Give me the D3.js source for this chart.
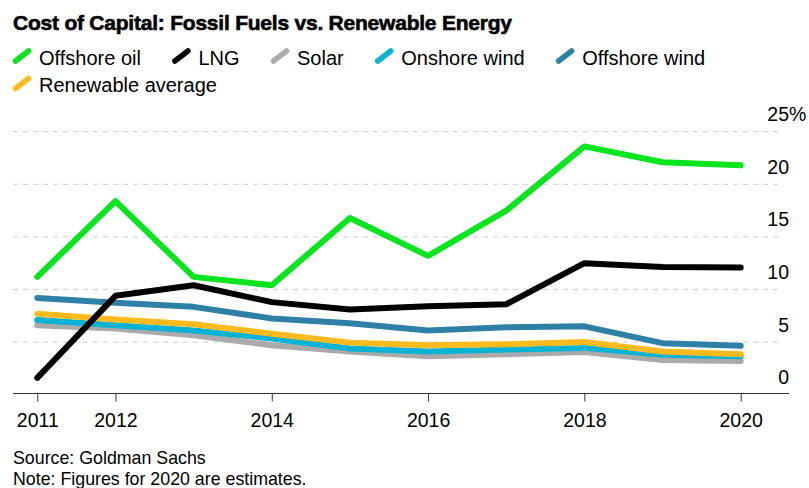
<!DOCTYPE html>
<html>
<head>
<meta charset="utf-8">
<script src="https://cdn.jsdelivr.net/npm/d3@7"></script>
<style>
  body { margin: 0; background: #fff; }
  svg { display: block; font-family: "Liberation Sans", Arial, sans-serif; }
</style>
</head>
<body>
<svg id="chart" width="809" height="488"></svg>
<script>
// données
var years = [2011, 2012, 2013, 2014, 2015, 2016, 2017, 2018, 2019, 2020];
var offshoreOil = [11.2, 18.4, 11.2, 10.4, 16.8, 13.2, 17.5, 23.6, 22.1, 21.8];
var lng = [1.6, 9.4, 10.4, 8.8, 8.1, 8.4, 8.6, 12.5, 12.15, 12.1];
var solar = [6.6, 6.3, 5.65, 4.7, 4.1, 3.65, 3.85, 4.05, 3.3, 3.2];
var onshoreWind = [7.1, 6.6, 6.1, 5.35, 4.4, 4.1, 4.3, 4.45, 3.8, 3.65];
var offshoreWind = [9.2, 8.75, 8.35, 7.25, 6.8, 6.1, 6.4, 6.5, 4.9, 4.65];
var renewableAvg = [7.7, 7.15, 6.7, 5.8, 4.95, 4.7, 4.8, 5.0, 4.1, 3.85];

var seriesNames = ["Offshore oil", "LNG", "Solar", "Onshore wind", "Offshore wind", "Renewable average"];
var xTickValues = [2011, 2012, 2014, 2016, 2018, 2020];
var yTickValues = [0, 5, 10, 15, 20, 25];

var colors = {
    "Offshore oil": "#08e41e",
    "LNG": "#000000",
    "Solar": "#aaaaaa",
    "Onshore wind": "#06b3d5",
    "Offshore wind": "#2f80a6",
    "Renewable average": "#ffbb1e"
};

var values = {
    "Offshore oil": offshoreOil,
    "LNG": lng,
    "Solar": solar,
    "Onshore wind": onshoreWind,
    "Offshore wind": offshoreWind,
    "Renewable average": renewableAvg
};

var svg = d3.select("#chart");

// titre
var title = svg.append("text")
    .attr("x", 13)
    .attr("y", 30)
    .style("font-size", "21px")
    .style("font-weight", "bold")
    .style("fill", "#000")
    .style("stroke", "#000")
    .style("stroke-width", 0.6)
    .text("Cost of Capital: Fossil Fuels vs. Renewable Energy");
// on resserre le titre pour la largeur de l'original
var tw = title.node().getComputedTextLength();
var nChars = title.text().length;
title.style("letter-spacing", ((499 - tw) / (nChars - 1)) + "px");

// légende (flux sur deux lignes)
var legendX = 13, legendY = 64.5, maxX = 796;
seriesNames.forEach(function(name) {
    var g = svg.append("g");
    var label = g.append("text")
        .attr("x", 26)
        .attr("y", 0)
        .style("font-size", "20px")
        .style("fill", "#000")
        .text(name);
    var w = 26 + label.node().getComputedTextLength();
    if (legendX + w > maxX) {
        legendX = 13;
        legendY += 27.5;
    }
    g.attr("transform", "translate(" + legendX + "," + legendY + ")");
    g.append("line")
        .attr("x1", 2.5).attr("y1", -3.5)
        .attr("x2", 15.5).attr("y2", -13.5)
        .style("stroke", colors[name])
        .style("stroke-width", 5.5)
        .style("stroke-linecap", "round");
    legendX += w + 31.5;
});

// échelles
var x = d3.scaleLinear().domain([2011, 2020]).range([37.3, 740.7]);
var y = d3.scaleLinear().domain([0, 25]).range([394.7, 131.7]);

// grille pointillée
svg.append("g")
    .selectAll("line")
    .data(yTickValues.filter(function(d) { return d > 0; }))
    .enter()
    .append("line")
    .attr("x1", 13)
    .attr("x2", 782)
    .attr("y1", function(d) { return y(d); })
    .attr("y2", function(d) { return y(d); })
    .style("stroke", "#d6d6d6")
    .style("stroke-width", 1.3)
    .style("stroke-dasharray", "5,5");

// étiquettes de l'axe y, posées au-dessus des lignes
var yLabels = svg.append("g")
    .selectAll("text")
    .data(yTickValues)
    .enter()
    .append("text")
    .attr("x", 789)
    .attr("y", function(d) { return y(d) - 10.5; })
    .attr("text-anchor", "end")
    .style("font-size", "19.5px")
    .style("fill", "#000")
    .text(function(d) { return d; });
yLabels.filter(function(d) { return d === 25; })
    .append("tspan")
    .text("%");
// le % dépasse à droite du chiffre
yLabels.filter(function(d) { return d === 25; })
    .attr("text-anchor", "start")
    .attr("x", function() {
        var full = this.getComputedTextLength();
        var pct = this.querySelector("tspan").getComputedTextLength();
        return 789 - (full - pct);
    });

// axe x
var xAxis = d3.axisBottom(x)
    .tickValues(xTickValues)
    .tickFormat(d3.format("d"))
    .tickSize(8)
    .tickSizeOuter(0);

var gx = svg.append("g")
    .attr("transform", "translate(0," + 393.5 + ")")
    .call(xAxis);
gx.select(".domain").remove();
gx.selectAll(".tick line").style("stroke", "#333").style("stroke-width", 1);
gx.selectAll(".tick text")
    .attr("y", 20)
    .attr("dy", "0.71em")
    .style("font-size", "19.5px")
    .style("font-family", "'Liberation Sans', Arial, sans-serif")
    .style("fill", "#000");
gx.append("line")
    .attr("x1", 13)
    .attr("x2", 789)
    .style("stroke", "#333")
    .style("stroke-width", 1);

// courbes, dans l'ordre de superposition
var line = d3.line()
    .x(function(d, i) { return x(years[i]); })
    .y(function(d) { return y(d); });

var drawOrder = ["Solar", "Onshore wind", "Renewable average", "Offshore wind", "LNG", "Offshore oil"];
svg.append("g")
    .selectAll("path")
    .data(drawOrder)
    .enter()
    .append("path")
    .attr("d", function(name) { return line(values[name]); })
    .style("fill", "none")
    .style("stroke", function(name) { return colors[name]; })
    .style("stroke-width", 6)
    .style("stroke-linejoin", "round")
    .style("stroke-linecap", "round");

// sources
svg.append("text")
    .attr("x", 13)
    .attr("y", 464)
    .style("font-size", "17.8px")
    .style("fill", "#000")
    .text("Source: Goldman Sachs");
svg.append("text")
    .attr("x", 13)
    .attr("y", 484.5)
    .style("font-size", "17.8px")
    .style("fill", "#000")
    .text("Note: Figures for 2020 are estimates.");
</script>
</body>
</html>
